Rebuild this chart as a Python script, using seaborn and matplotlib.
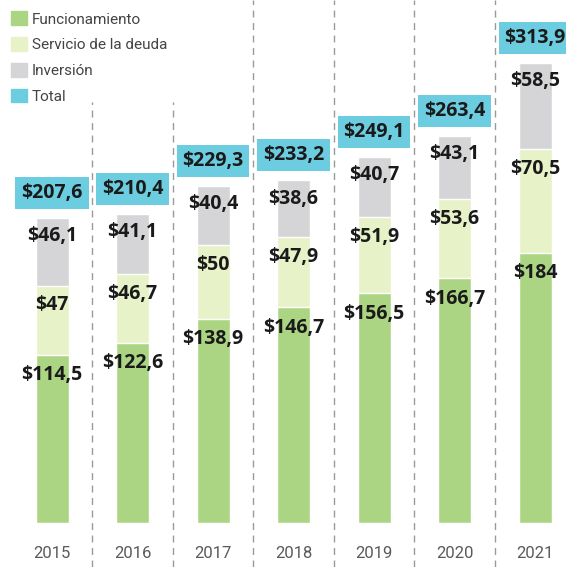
import matplotlib
matplotlib.use('Agg')
import matplotlib.pyplot as plt
import seaborn as sns
import numpy as np
from matplotlib.patches import Patch

years = ['2015', '2016', '2017', '2018', '2019', '2020', '2021']
funcionamiento = [114.5, 122.6, 138.9, 146.7, 156.5, 166.7, 184]
servicio = [47, 46.7, 50, 47.9, 51.9, 53.6, 70.5]
inversion = [46.1, 41.1, 40.4, 38.6, 40.7, 43.1, 58.5]
totales = [207.6, 210.4, 229.3, 233.2, 249.1, 263.4, 313.9]

c_func = '#acd583'
c_serv = '#e8f2c8'
c_inv = '#d5d5d7'
c_tot = '#6dcde0'

def fmt(v):
    s = ('%.1f' % v).rstrip('0').rstrip('.')
    return '$' + s.replace('.', ',')

sns.set_style('white')
plt.rcParams['font.family'] = ['Open Sans', 'DejaVu Sans']
narrow = ['Roboto', 'DejaVu Sans']

fig = plt.figure(figsize=(5.66, 5.67), dpi=100)
ax = fig.add_axes([0, 0, 1, 1])

f = np.array(funcionamiento)
s = np.array(servicio)
i = np.array(inversion)

sns.barplot(x=years, y=f + s + i, color=c_inv, saturation=1, width=0.41, ax=ax)
sns.barplot(x=years, y=f + s, color=c_serv, saturation=1, width=0.41, ax=ax)
sns.barplot(x=years, y=f, color=c_func, saturation=1, width=0.41, ax=ax)

ax.set_xlim(-0.646, 6.385)
ax.set_ylim(-29.9, 355.8)
ax.axis('off')

# separadores
for k in range(6):
    top = 0.82 if k < 2 else 1.0
    ax.axvline(k + 0.5, ymin=0, ymax=top, color='#9a9a9a', lw=1,
               linestyle=(0, (5, 4)))

lab = dict(ha='center', va='center', fontsize=14, fontweight='bold', color='#1a1a1a')
for k in range(len(years)):
    ax.text(k, f[k] - 14, fmt(f[k]), **lab)
    ax.text(k, f[k] + s[k] - 13.5, fmt(s[k]), **lab)
    ax.text(k, f[k] + s[k] + i[k] - 12.5, fmt(i[k]), **lab)
    ax.text(k, f[k] + s[k] + i[k] + 17, fmt(totales[k]),
            bbox=dict(boxstyle='square,pad=0.3', fc=c_tot, ec='none'), **lab)
    ax.text(k, -21, years[k], ha='center', va='center', fontsize=12,
            color='#5a5a5a', family=narrow)

handles = [Patch(color=c_func), Patch(color=c_serv), Patch(color=c_inv), Patch(color=c_tot)]
leg = ax.legend(handles, ['Funcionamiento', 'Servicio de la deuda', 'Inversión', 'Total'],
                loc='upper left', bbox_to_anchor=(0.0, 1.0), frameon=False,
                handlelength=1.0, handleheight=1.0, handletextpad=0.35,
                labelspacing=0.7, borderaxespad=0.35,
                prop={'family': narrow, 'size': 11})
for t in leg.get_texts():
    t.set_color('#444444')

plt.savefig('out.png', dpi=100)
